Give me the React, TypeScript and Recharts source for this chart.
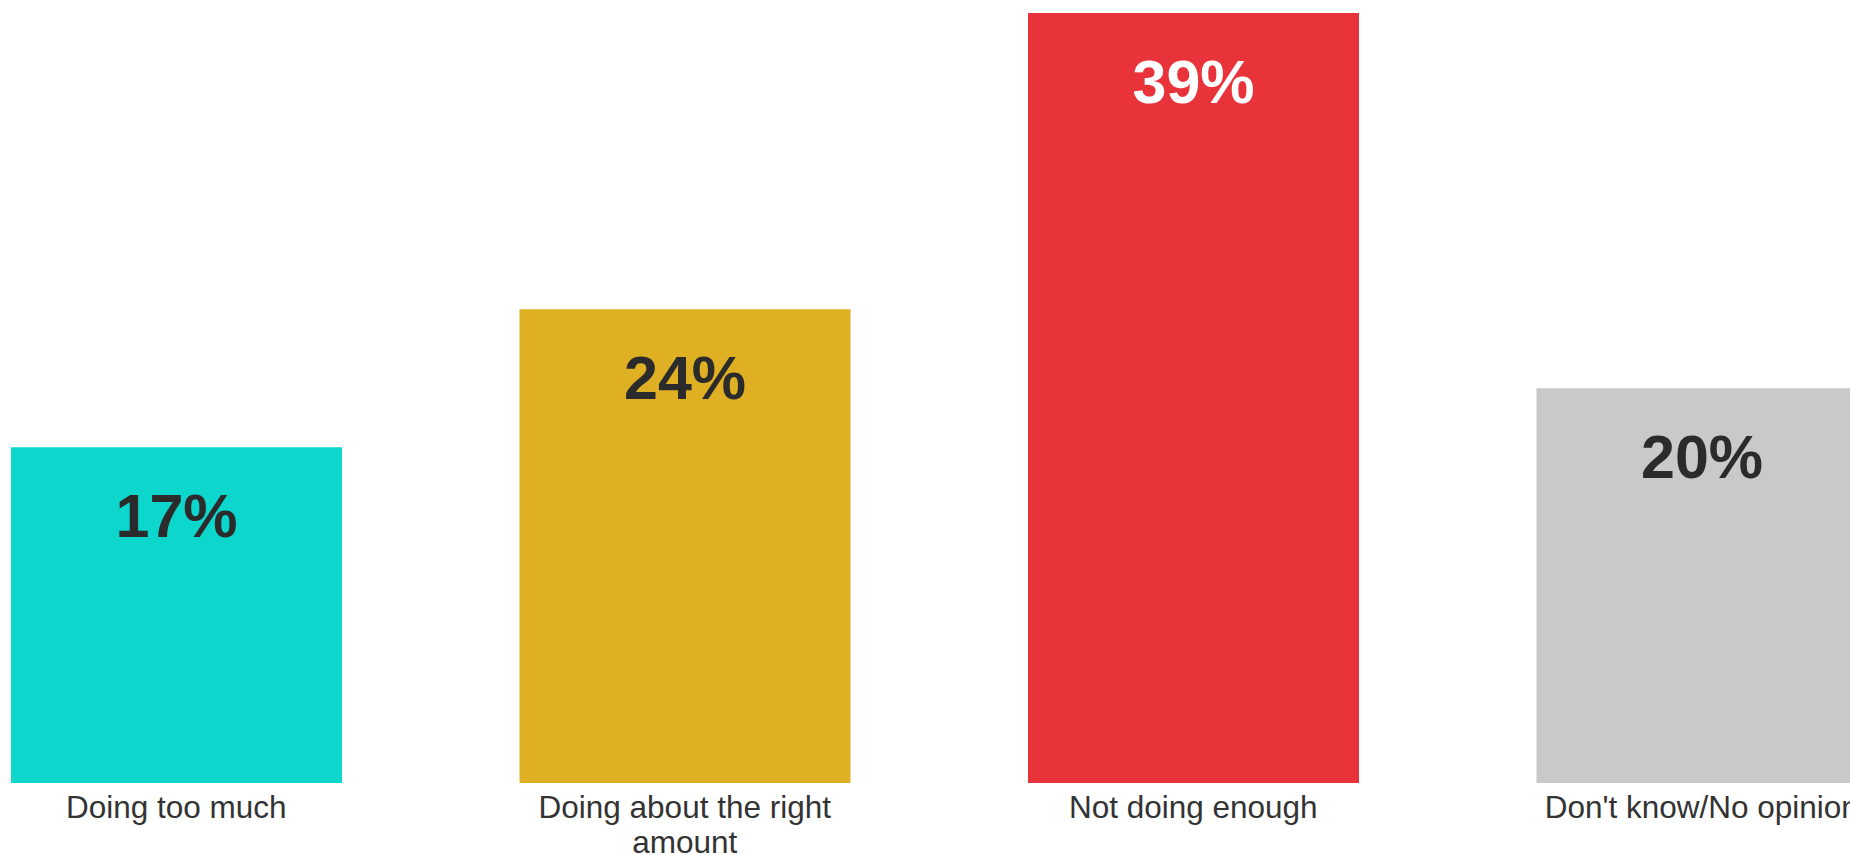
import React from "react";
import { Bar, BarChart, Cell, LabelList, XAxis, YAxis } from "recharts";

const categories = ["Doing too much", "Doing about the right amount", "Not doing enough", "Don't know/No opinion"];
const shares = [17, 24, 39, 20];

const barColors = ["#0dd6cc", "#e0b024", "#e8333a", "#c9c9c9"];
const labelColors = ["#2b2b2b", "#2b2b2b", "#ffffff", "#2b2b2b"];

const FONT = "'Liberation Sans', Arial, Helvetica, sans-serif";

const data = categories.map((name, i) => ({ name, value: shares[i] }));

// rough word wrap by character count (Recharts' Text would not wrap here)
function wrapWords(label: string, maxChars: number) {
  const lines: string[] = [];
  let cur = "";
  for (const w of label.split(" ")) {
    const next = cur ? `${cur} ${w}` : w;
    if (next.length > maxChars && cur) {
      lines.push(cur);
      cur = w;
    } else {
      cur = next;
    }
  }
  if (cur) lines.push(cur);
  return lines;
}

const CategoryTick = (props: any) => {
  const { x, y, payload } = props;
  const lines = wrapWords(String(payload.value), 24);
  return (
    <text x={x} y={y + 35} textAnchor="middle" fontSize={31.5} fontFamily={FONT} fill="#333333">
      {lines.map((ln, i) => (
        <tspan key={i} x={x} dy={i === 0 ? 0 : 35}>
          {ln}
        </tspan>
      ))}
    </text>
  );
};

const ValueLabel = (props: any) => {
  const { x, y, width, value, index } = props;
  return (
    <text
      x={x + width / 2}
      y={y + 90}
      textAnchor="middle"
      fontSize={61}
      fontWeight="bold"
      fontFamily={FONT}
      fill={labelColors[index]}
    >
      {`${value}%`}
    </text>
  );
};

export default function App() {
  return (
    <div style={{ position: "fixed", left: 0, top: 0, width: 1850, height: 855, overflow: "hidden", background: "#fff" }}>
      <div style={{ position: "absolute", left: -77.75, top: 0 }}>
        <BarChart width={2034} height={855} data={data} margin={{ top: 13, right: 0, bottom: 0, left: 0 }}>
          <XAxis
            dataKey="name"
            height={72}
            axisLine={false}
            tickLine={false}
            tickSize={0}
            tickMargin={0}
            interval={0}
            tick={<CategoryTick />}
          />
          <YAxis hide domain={[0, 39]} allowDataOverflow />
          <Bar dataKey="value" barSize={331} isAnimationActive={false}>
            {data.map((d, i) => (
              <Cell key={d.name} fill={barColors[i]} />
            ))}
            <LabelList dataKey="value" content={<ValueLabel />} />
          </Bar>
        </BarChart>
      </div>
    </div>
  );
}
